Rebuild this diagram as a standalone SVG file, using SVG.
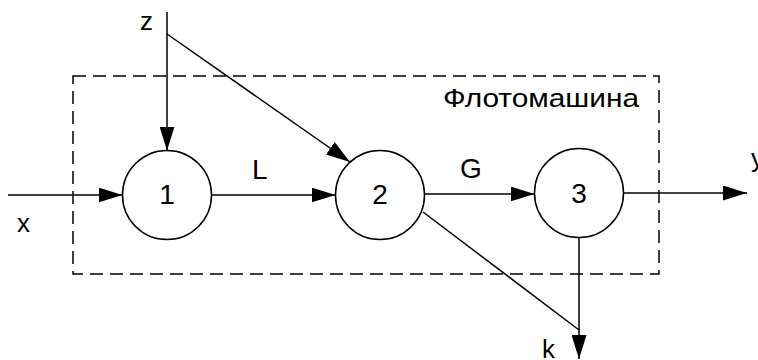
<svg xmlns="http://www.w3.org/2000/svg" width="758" height="360" viewBox="0 0 758 360">
<style>
.ln{stroke:#000;stroke-width:1.5;fill:none}
.nd{stroke:#000;stroke-width:1.5;fill:#fff}
.t{font-family:"Liberation Sans",Arial,sans-serif;fill:#000}
.big{font-size:28px}
.sm{font-size:26px}
</style>
<defs>
<marker id="ah" markerUnits="userSpaceOnUse" markerWidth="24" markerHeight="15" refX="24" refY="7.5" orient="auto" viewBox="0 0 24 15">
<path d="M0,0 L24,7.5 L0,15 Z" fill="#000"/>
</marker>
</defs>
<g id="frame">
<rect x="73" y="76" width="586" height="198" fill="none" stroke="#000" stroke-width="1.5" stroke-dasharray="13 7"/>
<text class="t" x="443" y="107" font-size="25" textLength="196" lengthAdjust="spacingAndGlyphs">Флотомашина</text>
</g>
<g id="connectors">
<line class="ln" x1="8" y1="195" x2="122.5" y2="195" marker-end="url(#ah)"/>
<line class="ln" x1="167" y1="12" x2="167" y2="150.5" marker-end="url(#ah)"/>
<line class="ln" x1="167" y1="34" x2="350" y2="162" marker-end="url(#ah)"/>
<line class="ln" x1="211.5" y1="195" x2="335.5" y2="195" marker-end="url(#ah)"/>
<line class="ln" x1="424.5" y1="194" x2="534.5" y2="194" marker-end="url(#ah)"/>
<line class="ln" x1="623.5" y1="193" x2="747" y2="193" marker-end="url(#ah)"/>
<polyline class="ln" points="423,212 579,330"/>
<line class="ln" x1="579" y1="237.5" x2="579" y2="359" marker-end="url(#ah)"/>
<text class="t sm" x="140" y="30">z</text>
<text class="t sm" x="17" y="232">x</text>
<text class="t sm" x="751" y="167">y</text>
<text class="t sm" x="542" y="358">k</text>
<text class="t big" x="252" y="179">L</text>
<text class="t big" x="460" y="178">G</text>
</g>
<g id="node1">
<circle class="nd" cx="167" cy="195" r="44.5"/>
<text class="t big" x="167" y="204" text-anchor="middle">1</text>
</g>
<g id="node2">
<circle class="nd" cx="380" cy="195" r="44.5"/>
<text class="t big" x="380" y="204" text-anchor="middle">2</text>
</g>
<g id="node3">
<circle class="nd" cx="579" cy="193" r="44.5"/>
<text class="t big" x="579" y="203" text-anchor="middle">3</text>
</g>
</svg>
